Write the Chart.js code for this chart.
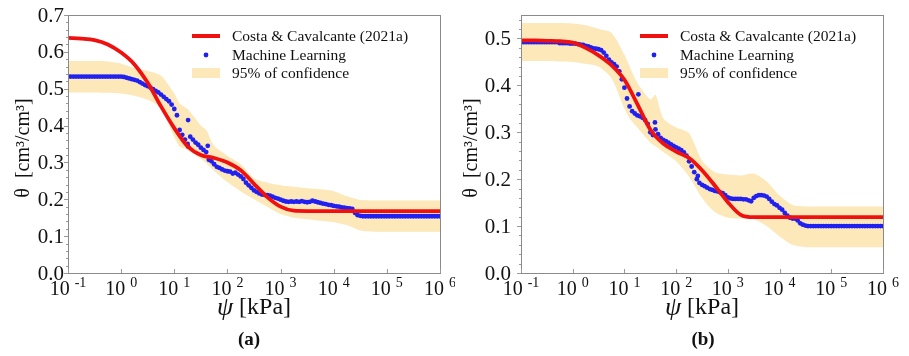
<!DOCTYPE html>
<html>
<head>
<meta charset="utf-8">
<script src="https://cdn.jsdelivr.net/npm/chart.js@4/dist/chart.umd.min.js"></script>
<style>
  body { margin: 0; background: #fff; }
  #wrap { position: relative; width: 909px; height: 356px; }
  canvas { position: absolute; top: 0; }
</style>
</head>
<body>
<div id="wrap">
  <canvas id="chartA" width="455" height="356" style="left:0"></canvas>
  <canvas id="chartB" width="454" height="356" style="left:455px"></canvas>
</div>
<script>
// Axis ticks
const xTickExps = [-1, 0, 1, 2, 3, 4, 5, 6];
const yTicksA = [0, 0.1, 0.2, 0.3, 0.4, 0.5, 0.6, 0.7];
const yTicksB = [0, 0.1, 0.2, 0.3, 0.4, 0.5];
const seriesNames = ['Costa & Cavalcante (2021a)', 'Machine Learning', '95% of confidence'];
const panelLabels = ['(a)', '(b)'];

// log10(psi) grid for the fitted curve
const curveExp = [-1, -0.75, -0.5, -0.25, 0, 0.25, 0.5, 0.75, 1, 1.25, 1.5, 1.75, 2, 2.25, 2.5,
  2.75, 3, 3.25, 3.5, 3.75, 4, 4.25, 4.5, 4.75, 5, 5.25, 5.5, 5.75, 6];
const costaA = [0.638, 0.636, 0.632, 0.620, 0.598, 0.566, 0.516, 0.452, 0.393, 0.344, 0.320, 0.312,
  0.300, 0.279, 0.242, 0.206, 0.180, 0.169, 0.168, 0.168, 0.168, 0.168, 0.168, 0.168, 0.168,
  0.168, 0.168, 0.168, 0.168];
const costaB = [0.496, 0.496, 0.495, 0.494, 0.491, 0.480, 0.464, 0.443, 0.412, 0.360, 0.306, 0.276,
  0.259, 0.245, 0.219, 0.186, 0.151, 0.124, 0.119, 0.119, 0.119, 0.119, 0.119, 0.119, 0.119,
  0.119, 0.119, 0.119, 0.119];

// confidence band edges
const bandExp = [-1, -0.75, -0.5, -0.25, 0, 0.25, 0.5, 0.75, 1, 1.1, 1.25, 1.5, 1.6, 1.75, 2, 2.25,
  2.5, 2.75, 3, 3.25, 3.5, 3.75, 4, 4.25, 4.5, 4.75, 5, 5.5, 6];
const bandHiA = [0.575, 0.575, 0.575, 0.574, 0.568, 0.556, 0.548, 0.535, 0.487, 0.460, 0.445, 0.400,
  0.388, 0.345, 0.318, 0.295, 0.257, 0.245, 0.238, 0.234, 0.230, 0.227, 0.222, 0.208, 0.198,
  0.197, 0.197, 0.197, 0.197];
const bandLoA = [0.490, 0.490, 0.490, 0.489, 0.487, 0.481, 0.470, 0.447, 0.368, 0.343, 0.334, 0.310,
  0.298, 0.277, 0.247, 0.222, 0.200, 0.180, 0.160, 0.150, 0.146, 0.142, 0.138, 0.130, 0.115,
  0.112, 0.112, 0.112, 0.112];
const bandHiB = [0.533, 0.533, 0.533, 0.533, 0.532, 0.528, 0.520, 0.512, 0.465, 0.440, 0.405, 0.370,
  0.380, 0.330, 0.310, 0.298, 0.240, 0.215, 0.210, 0.208, 0.212, 0.195, 0.165, 0.145, 0.142,
  0.142, 0.142, 0.142, 0.142];
const bandLoB = [0.452, 0.452, 0.452, 0.451, 0.450, 0.446, 0.440, 0.415, 0.350, 0.330, 0.310, 0.278,
  0.270, 0.258, 0.238, 0.205, 0.160, 0.130, 0.118, 0.116, 0.115, 0.100, 0.078, 0.060, 0.055,
  0.055, 0.055, 0.055, 0.055];

// machine learning predictions, log10(psi) grid
const mlExp = [
  -1, -0.95, -0.9, -0.85, -0.8, -0.75, -0.7, -0.65, -0.6, -0.55, -0.5, -0.45, -0.4, -0.35, -0.3, -0.25, -0.2, -0.15, -0.1, -0.05,
  0, 0.05, 0.1, 0.15, 0.2, 0.25, 0.3, 0.35, 0.4, 0.45, 0.5, 0.55, 0.6, 0.65, 0.7, 0.75, 0.8, 0.85, 0.9, 0.95,
  1, 1.05, 1.1, 1.15, 1.2, 1.25, 1.3, 1.35, 1.4, 1.45, 1.5, 1.55, 1.6, 1.65, 1.7, 1.75, 1.8, 1.85, 1.9, 1.95,
  2, 2.05, 2.1, 2.15, 2.2, 2.25, 2.3, 2.35, 2.4, 2.45, 2.5, 2.55, 2.6, 2.65, 2.7, 2.75, 2.8, 2.85, 2.9, 2.95,
  3, 3.05, 3.1, 3.15, 3.2, 3.25, 3.3, 3.35, 3.4, 3.45, 3.5, 3.55, 3.6, 3.65, 3.7, 3.75, 3.8, 3.85, 3.9, 3.95,
  4, 4.05, 4.1, 4.15, 4.2, 4.25, 4.3, 4.35, 4.4, 4.45, 4.5, 4.55, 4.6, 4.65, 4.7, 4.75, 4.8, 4.85, 4.9, 4.95,
  5, 5.05, 5.1, 5.15, 5.2, 5.25, 5.3, 5.35, 5.4, 5.45, 5.5, 5.55, 5.6, 5.65, 5.7, 5.75, 5.8, 5.85, 5.9, 5.95,
  6];
const mlA = [
  0.533, 0.533, 0.533, 0.533, 0.533, 0.533, 0.533, 0.533, 0.533, 0.533, 0.533, 0.533, 0.533, 0.533, 0.533, 0.533, 0.533, 0.533, 0.533, 0.533,
  0.533, 0.532, 0.530, 0.528, 0.526, 0.524, 0.522, 0.518, 0.514, 0.510, 0.507, 0.503, 0.499, 0.494, 0.490, 0.484, 0.478, 0.472, 0.466, 0.457,
  0.445, 0.428, 0.388, 0.375, 0.362, 0.350, 0.370, 0.362, 0.354, 0.348, 0.340, 0.334, 0.328, 0.307, 0.303, 0.295, 0.288, 0.285, 0.281, 0.278,
  0.276, 0.275, 0.270, 0.272, 0.267, 0.262, 0.255, 0.245, 0.238, 0.231, 0.224, 0.220, 0.216, 0.213, 0.212, 0.211, 0.210, 0.207, 0.204, 0.202,
  0.199, 0.196, 0.194, 0.193, 0.194, 0.193, 0.194, 0.193, 0.195, 0.193, 0.192, 0.193, 0.196, 0.194, 0.192, 0.190, 0.188, 0.187, 0.185, 0.184,
  0.182, 0.181, 0.180, 0.178, 0.177, 0.176, 0.175, 0.174, 0.163, 0.157, 0.155, 0.154, 0.154, 0.154, 0.154, 0.154, 0.154, 0.154, 0.154, 0.154,
  0.154, 0.154, 0.154, 0.154, 0.154, 0.154, 0.154, 0.154, 0.154, 0.154, 0.154, 0.154, 0.154, 0.154, 0.154, 0.154, 0.154, 0.154, 0.154, 0.154,
  0.154];
const mlB = [
  0.492, 0.492, 0.492, 0.492, 0.492, 0.492, 0.492, 0.492, 0.492, 0.492, 0.492, 0.492, 0.492, 0.492, 0.492, 0.490, 0.490, 0.490, 0.490, 0.489,
  0.489, 0.489, 0.488, 0.487, 0.486, 0.484, 0.483, 0.481, 0.479, 0.478, 0.477, 0.475, 0.470, 0.463, 0.455, 0.449, 0.445, 0.440, 0.430, 0.413,
  0.395, 0.372, 0.355, 0.345, 0.340, 0.336, 0.334, 0.331, 0.326, 0.318, 0.300, 0.294, 0.306, 0.296, 0.288, 0.284, 0.281, 0.278, 0.274, 0.271,
  0.268, 0.265, 0.262, 0.257, 0.250, 0.238, 0.227, 0.215, 0.200, 0.192, 0.188, 0.185, 0.182, 0.179, 0.177, 0.175, 0.174, 0.172, 0.170, 0.166,
  0.161, 0.159, 0.158, 0.158, 0.158, 0.158, 0.157, 0.157, 0.155, 0.153, 0.160, 0.164, 0.166, 0.166, 0.165, 0.163, 0.158, 0.152, 0.147, 0.144,
  0.139, 0.135, 0.128, 0.122, 0.118, 0.116, 0.116, 0.112, 0.106, 0.103, 0.101, 0.100, 0.100, 0.100, 0.100, 0.100, 0.100, 0.100, 0.100, 0.100,
  0.100, 0.100, 0.100, 0.100, 0.100, 0.100, 0.100, 0.100, 0.100, 0.100, 0.100, 0.100, 0.100, 0.100, 0.100, 0.100, 0.100, 0.100, 0.100, 0.100,
  0.100];
// scattered predictions off the main run
const mlExtraExpA = [1.26, 1.26, 1.63];
const mlExtraA = [0.415, 0.343, 0.345];
const mlExtraExpB = [1.27, 1.59, 2.42];
const mlExtraB = [0.381, 0.321, 0.207];

const RED = '#f01010';
const BLUE = '#2020f0';
const BAND = '#fce8b8';
const SERIF = '"Liberation Serif", serif';

const toPts = (exps, vals) => exps.map((e, i) => ({ x: Math.pow(10, e), y: vals[i] }));

// frame, ticks, labels, legend and panel letter
const panelDecor = {
  id: 'panelDecor',
  afterDraw(chart, args, o) {
    const { ctx, chartArea: a, scales: { x, y } } = chart;
    ctx.save();
    ctx.strokeStyle = '#8a8a8a';
    ctx.lineWidth = 1;
    ctx.strokeRect(Math.round(a.left) + 0.5, Math.round(a.top) + 0.5,
      Math.round(a.right - a.left), Math.round(a.bottom - a.top));

    // y minor ticks every 0.02, major every 0.1
    ctx.strokeStyle = '#999';
    for (let v = 0; v <= y.max + 1e-9; v += 0.02) {
      const py = Math.round(y.getPixelForValue(v)) + 0.5;
      ctx.beginPath();
      ctx.moveTo(a.left - 2, py);
      ctx.lineTo(a.left, py);
      ctx.stroke();
    }
    o.yTicks.forEach(v => {
      const py = Math.round(y.getPixelForValue(v)) + 0.5;
      ctx.beginPath();
      ctx.moveTo(a.left - 4, py);
      ctx.lineTo(a.left, py);
      ctx.stroke();
    });
    xTickExps.forEach(e => {
      const px = Math.round(x.getPixelForValue(Math.pow(10, e))) + 0.5;
      ctx.beginPath();
      ctx.moveTo(px, a.bottom);
      ctx.lineTo(px, a.bottom - 4);
      ctx.stroke();
    });

    ctx.fillStyle = '#111';
    // y tick labels
    ctx.font = '21px ' + SERIF;
    ctx.textAlign = 'right';
    ctx.textBaseline = 'middle';
    o.yTicks.forEach(v => {
      ctx.fillText(v.toFixed(1), a.left - o.labelGap, y.getPixelForValue(v) + 1);
    });

    // x tick labels: 10 with a raised exponent
    ctx.textAlign = 'left';
    xTickExps.forEach(e => {
      const px = x.getPixelForValue(Math.pow(10, e));
      const exp = e < 0 ? '-' + Math.abs(e) : String(e);
      ctx.font = '20px ' + SERIF;
      const wBase = ctx.measureText('10').width;
      ctx.font = '14px ' + SERIF;
      const wExp = ctx.measureText(exp).width;
      const start = px - (wBase + 5 + wExp) / 2;
      ctx.font = '20px ' + SERIF;
      ctx.fillText('10', start, a.bottom + 17);
      ctx.font = '14px ' + SERIF;
      ctx.fillText(exp, start + wBase + 5, a.bottom + 10);
    });

    // axis titles
    const cx = (a.left + a.right) / 2;
    ctx.font = 'italic 26px ' + SERIF;
    const wPsi = ctx.measureText('\u03C8').width;
    ctx.font = '24px ' + SERIF;
    const wKpa = ctx.measureText(' [kPa]').width;
    const tx = cx - (wPsi + wKpa) / 2;
    ctx.font = 'italic 26px ' + SERIF;
    ctx.fillText('\u03C8', tx, a.bottom + 35);
    ctx.font = '24px ' + SERIF;
    ctx.fillText(' [kPa]', tx + wPsi, a.bottom + 35);

    ctx.save();
    ctx.translate(o.yTitleX, (a.top + a.bottom) / 2 + 4);
    ctx.rotate(-Math.PI / 2);
    ctx.textAlign = 'center';
    ctx.font = '20px ' + SERIF;
    ctx.fillText('\u03B8  [cm\u00B3/cm\u00B3]', 0, 0);
    ctx.restore();

    // panel letter
    ctx.textAlign = 'center';
    ctx.font = 'bold 19px ' + SERIF;
    ctx.fillText(o.panel, o.panelX, 340);

    // legend
    const lx = o.legendX, rows = [36, 55, 73];
    ctx.strokeStyle = RED;
    ctx.lineWidth = 4;
    ctx.beginPath();
    ctx.moveTo(lx, rows[0]);
    ctx.lineTo(lx + 28, rows[0]);
    ctx.stroke();
    ctx.fillStyle = BLUE;
    ctx.beginPath();
    ctx.arc(lx + 14, rows[1], 2.4, 0, Math.PI * 2);
    ctx.fill();
    ctx.fillStyle = BAND;
    ctx.fillRect(lx, rows[2] - 5, 28, 10);
    ctx.fillStyle = '#111';
    ctx.textAlign = 'left';
    ctx.font = '15.5px ' + SERIF;
    seriesNames.forEach((s, i) => ctx.fillText(s, lx + 40, rows[i] + 1));
    ctx.restore();
  }
};

function makeChart(id, d) {
  return new Chart(document.getElementById(id), {
    type: 'line',
    data: {
      datasets: [
        {
          label: seriesNames[0],
          data: toPts(curveExp, d.costa),
          borderColor: RED,
          borderWidth: 3.8,
          pointRadius: 0,
          cubicInterpolationMode: 'monotone',
          order: 0
        },
        {
          label: seriesNames[1],
          data: toPts(mlExp, d.ml).concat(toPts(d.extraExp, d.extra)),
          showLine: false,
          pointRadius: 2.4,
          pointBorderWidth: 0,
          pointBackgroundColor: BLUE,
          order: 1
        },
        {
          label: seriesNames[2],
          data: toPts(bandExp, d.hi),
          borderWidth: 0,
          pointRadius: 0,
          tension: 0.25,
          fill: '+1',
          backgroundColor: BAND,
          order: 2
        },
        {
          label: 'lower',
          data: toPts(bandExp, d.lo),
          borderWidth: 0,
          pointRadius: 0,
          tension: 0.25,
          fill: false,
          order: 3
        }
      ]
    },
    options: {
      responsive: false,
      animation: false,
      events: [],
      layout: { padding: d.padding },
      scales: {
        x: { type: 'logarithmic', min: 0.1, max: 1e6, display: false },
        y: { type: 'linear', min: 0, max: d.yMax, display: false }
      },
      plugins: {
        legend: { display: false },
        tooltip: { enabled: false },
        panelDecor: d.decor
      }
    },
    plugins: [panelDecor]
  });
}

function drawAll() {
  makeChart('chartA', {
    costa: costaA, ml: mlA, extraExp: mlExtraExpA, extra: mlExtraA, hi: bandHiA, lo: bandLoA,
    yMax: 0.7,
    padding: { left: 68, right: 15, top: 15, bottom: 83 },
    decor: { yTicks: yTicksA, labelGap: 4, yTitleX: 24, legendX: 192, panel: panelLabels[0], panelX: 249 }
  });
  makeChart('chartB', {
    costa: costaB, ml: mlB, extraExp: mlExtraExpB, extra: mlExtraB, hi: bandHiB, lo: bandLoB,
    yMax: 0.55,
    padding: { left: 66, right: 26, top: 15, bottom: 83 },
    decor: { yTicks: yTicksB, labelGap: 10, yTitleX: 17, legendX: 185, panel: panelLabels[1], panelX: 248 }
  });
}

// make sure the serif face is ready before text goes onto the canvases
Promise.all([
  document.fonts.load('20px "Liberation Serif"'),
  document.fonts.load('italic 20px "Liberation Serif"'),
  document.fonts.load('bold 20px "Liberation Serif"')
]).then(drawAll, drawAll);
</script>
</body>
</html>
